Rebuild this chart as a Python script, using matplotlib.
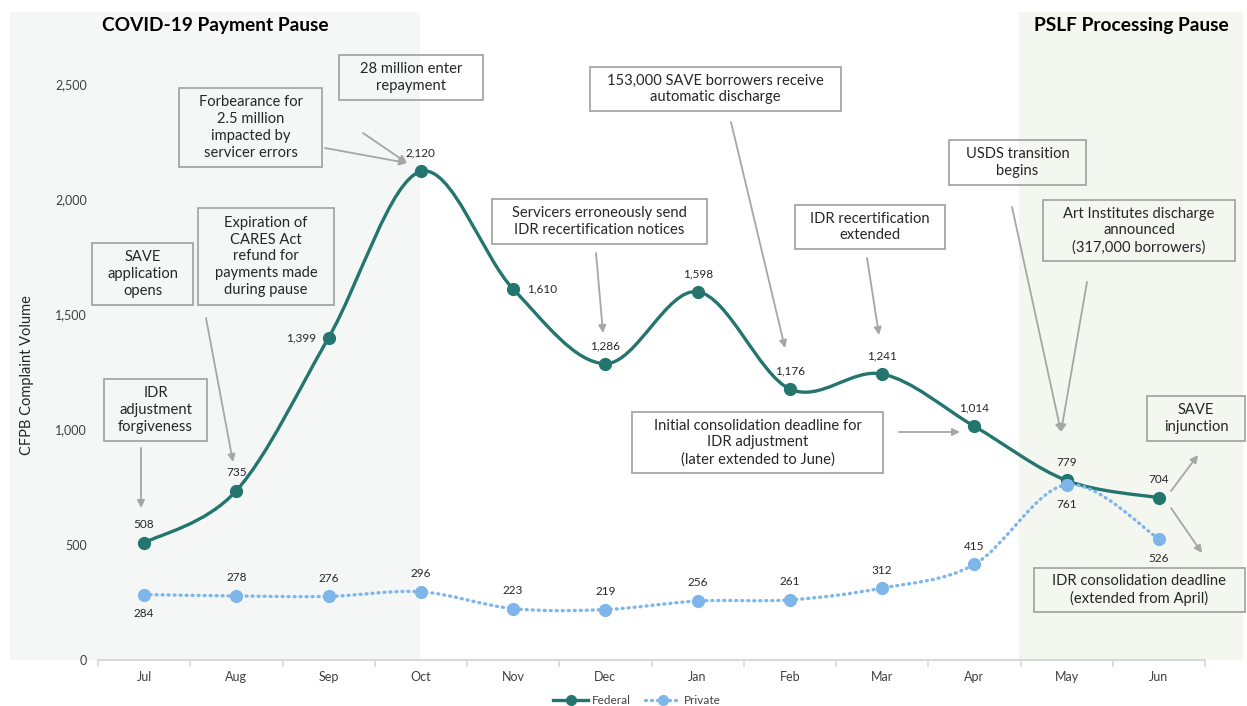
import numpy as np
import matplotlib.pyplot as plt
from matplotlib.path import Path
from matplotlib.patches import PathPatch, Rectangle
from matplotlib.lines import Line2D

plt.rcParams["font.family"] = ["Lato", "DejaVu Sans"]

# ---------------------------------------------------------
# Dados
# ---------------------------------------------------------
meses = ["Jul", "Aug", "Sep", "Oct", "Nov", "Dec", "Jan", "Feb", "Mar", "Apr", "May", "Jun"]
federal = [508, 735, 1399, 2120, 1610, 1286, 1598, 1176, 1241, 1014, 779, 704]
private = [284, 278, 276, 296, 223, 219, 256, 261, 312, 415, 761, 526]

COR_FED = "#23756d"
COR_PRIV = "#7fb6e9"
COR_CAIXA = "#a6a6a6"
COR_TXT = "#262626"

W, H = 1247, 706


def fig_px(x, y):
    # pixel (origem no canto superior esquerdo) -> fração da figura
    return x / W, 1 - y / H


def curva_suave(xs, ys):
    # curva de Bezier (Catmull-Rom) passando pelos pontos, como no Excel
    pts = np.column_stack([xs, ys]).astype(float)
    n = len(pts)
    verts = [pts[0]]
    codes = [Path.MOVETO]
    for i in range(n - 1):
        p0 = pts[max(i - 1, 0)]
        p1 = pts[i]
        p2 = pts[i + 1]
        p3 = pts[min(i + 2, n - 1)]
        c1 = p1 + (p2 - p0) / 6
        c2 = p2 - (p3 - p1) / 6
        verts += [c1, c2, p2]
        codes += [Path.CURVE4] * 3
    return Path(verts, codes)


fig = plt.figure(figsize=(W / 100, H / 100), dpi=100)
fig.patch.set_facecolor("white")

# zonas sombreadas (pausas)
for (px0, px1, cor) in [(10, 420, "#f5f7f6"), (1019, 1243, "#f3f7f0")]:
    x0, y0 = fig_px(px0, 660)
    x1, y1 = fig_px(px1, 12)
    fig.patches.append(Rectangle((x0, y0), x1 - x0, y1 - y0, transform=fig.transFigure,
                                 facecolor=cor, edgecolor="none", zorder=-5))

ax = fig.add_axes([98 / W, 46 / H, (1205 - 98) / W, (660 - 12) / H])
ax.patch.set_alpha(0)
ax.set_zorder(1)

x = np.arange(len(meses))

# linhas suaves
ax.add_patch(PathPatch(curva_suave(x, federal), facecolor="none", edgecolor=COR_FED,
                       lw=2.4, capstyle="round", zorder=3))
ax.add_patch(PathPatch(curva_suave(x, private), facecolor="none", edgecolor=COR_PRIV,
                       lw=2.4, linestyle=(0, (0.3, 1.5)), capstyle="round", zorder=3))
ax.plot(x, federal, "o", color=COR_FED, ms=8.5, zorder=4)
ax.plot(x, private, "o", color=COR_PRIV, ms=8.5, zorder=4)

# rótulos dos valores
off_fed = {2: (-9, 0, "right", "center"), 4: (10, 0, "left", "center")}
for i, v in enumerate(federal):
    dx, dy, ha, va = off_fed.get(i, (0, 13, "center", "center"))
    ax.annotate(f"{v:,}", (i, v), xytext=(dx, dy), textcoords="offset points",
                ha=ha, va=va, fontsize=8.5, color=COR_TXT, zorder=5)
abaixo = {0, 10, 11}
for i, v in enumerate(private):
    dy = -14 if i in abaixo else 13
    ax.annotate(f"{v:,}", (i, v), xytext=(0, dy), textcoords="offset points",
                ha="center", va="center", fontsize=8.5, color=COR_TXT, zorder=5)

# eixos
ax.set_xlim(-0.5, len(meses) - 0.5)
ax.set_ylim(0, 2812)
ax.set_yticks([0, 500, 1000, 1500, 2000, 2500])
ax.set_yticklabels(["0", "500", "1,000", "1,500", "2,000", "2,500"])
ax.set_xticks(x)
ax.set_xticklabels(meses)
ax.set_xticks(np.arange(-0.5, len(meses)), minor=True)
ax.tick_params(axis="x", which="major", length=0, pad=8, labelsize=9, labelcolor="#404040")
ax.tick_params(axis="x", which="minor", length=5, width=1.2, color="#d9d9d9")
ax.tick_params(axis="y", length=0, pad=8, labelsize=9, labelcolor="#404040")
for s in ["top", "right", "left"]:
    ax.spines[s].set_visible(False)
ax.spines["bottom"].set_color("#d9d9d9")
ax.spines["bottom"].set_linewidth(1.5)
ax.set_ylabel("CFPB Complaint Volume", fontsize=10.5, color=COR_TXT)
ax.yaxis.set_label_coords(-0.058, 0.44)

# títulos das zonas
fig.text(*fig_px(215, 26), "COVID-19 Payment Pause", ha="center", va="center",
         fontsize=13.8, fontweight="bold", color="black")
fig.text(*fig_px(1131, 26), "PSLF Processing Pause", ha="center", va="center",
         fontsize=13.8, fontweight="bold", color="black")

# caixas de anotação (texto, x0, y0, x1, y1 em pixels)
caixas = [
    ("IDR\nadjustment\nforgiveness", 104, 379, 207, 441),
    ("SAVE\napplication\nopens", 92, 243, 193, 305),
    ("Expiration of\nCARES Act\nrefund for\npayments made\nduring pause", 198, 208, 334, 305),
    ("Forbearance for\n2.5 million\nimpacted by\nservicer errors", 179, 88, 322, 167),
    ("28 million enter\nrepayment", 339, 55, 483, 100),
    ("Servicers erroneously send\nIDR recertification notices", 492, 199, 707, 244),
    ("153,000 SAVE borrowers receive\nautomatic discharge", 590, 67, 841, 111),
    ("IDR recertification\nextended", 795, 205, 945, 249),
    ("USDS transition\nbegins", 949, 140, 1086, 185),
    ("Art Institutes discharge\nannounced\n(317,000 borrowers)", 1043, 200, 1235, 261),
    ("Initial consolidation deadline for\nIDR adjustment\n(later extended to June)", 632, 412, 883, 473),
    ("SAVE\ninjunction", 1147, 396, 1245, 441),
    ("IDR consolidation deadline\n(extended from April)", 1034, 568, 1245, 612),
]
for txt, bx0, by0, bx1, by1 in caixas:
    fx0, fy1 = fig_px(bx0, by0)
    fx1, fy0 = fig_px(bx1, by1)
    fig.patches.append(Rectangle((fx0, fy0), fx1 - fx0, fy1 - fy0, transform=fig.transFigure,
                                 facecolor="none", edgecolor=COR_CAIXA, lw=1.3, zorder=6))
    fig.text((fx0 + fx1) / 2, (fy0 + fy1) / 2, txt, ha="center", va="center",
             fontsize=10.6, color=COR_TXT, linespacing=1.25, zorder=7)

# setas (início -> fim, em pixels)
setas = [
    ((141, 448), (141, 508)),
    ((206, 318), (233, 462)),
    ((325, 148), (407, 163)),
    ((363, 133), (407, 163)),
    ((596, 253), (603, 333)),
    ((731, 122), (785, 348)),
    ((867, 258), (879, 335)),
    ((1012, 207), (1061, 432)),
    ((1087, 282), (1061, 432)),
    ((899, 432), (960, 432)),
    ((1171, 491), (1198, 455)),
    ((1171, 508), (1202, 553)),
]
for (sx, sy), (ex, ey) in setas:
    fig.add_artist(plt.Annotation("", xy=fig_px(ex, ey), xytext=fig_px(sx, sy),
                                  xycoords="figure fraction", textcoords="figure fraction",
                                  arrowprops=dict(arrowstyle="-|>", color=COR_CAIXA, lw=1.3,
                                                  mutation_scale=11, shrinkA=0, shrinkB=0)))

# legenda
handles = [
    Line2D([], [], color=COR_FED, lw=2.4, marker="o", ms=7),
    Line2D([], [], color=COR_PRIV, lw=2.4, linestyle=(0, (0.3, 1.5)),
           dash_capstyle="round", marker="o", ms=7),
]
fig.legend(handles, ["Federal", "Private"], loc="center", bbox_to_anchor=fig_px(637, 701),
           ncol=2, frameon=False, fontsize=8.5, handlelength=3, columnspacing=1.2,
           handletextpad=0.3, labelcolor="#404040")

fig.savefig("out.png", dpi=100)
